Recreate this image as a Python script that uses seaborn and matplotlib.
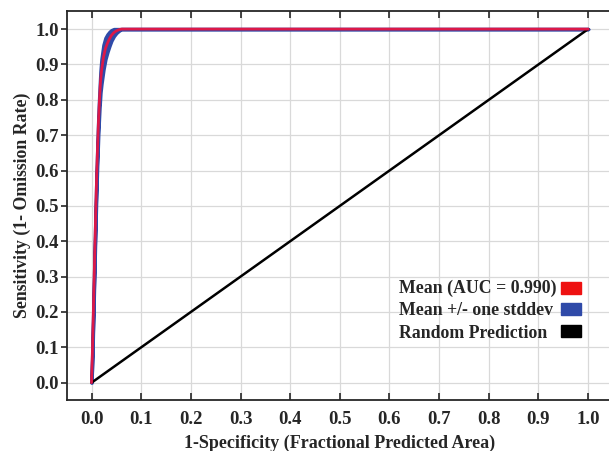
import numpy as np
import pandas as pd
import seaborn as sns
import matplotlib.pyplot as plt
from matplotlib.patches import Patch

# mean ROC curve
fpr = [0.0, 0.002, 0.004, 0.006, 0.008, 0.010, 0.012, 0.014, 0.016, 0.018,
       0.020, 0.024, 0.028, 0.032, 0.036, 0.040, 0.045, 0.050, 0.055, 0.060,
       0.100, 0.500, 1.000]
tpr = [0.0, 0.10, 0.22, 0.34, 0.46, 0.57, 0.66, 0.74, 0.80, 0.85,
       0.88, 0.92, 0.945, 0.96, 0.972, 0.982, 0.99, 0.995, 0.998, 1.0,
       1.0, 1.0, 1.0]
tpr_std = [0.0, 0.01, 0.012, 0.014, 0.016, 0.018, 0.02, 0.022, 0.025, 0.03,
           0.035, 0.035, 0.03, 0.025, 0.02, 0.015, 0.01, 0.006, 0.003, 0.0,
           0.0, 0.0, 0.0]
random_x = [0.0, 1.0]
random_y = [0.0, 1.0]

x_ticks = [0.0, 0.1, 0.2, 0.3, 0.4, 0.5, 0.6, 0.7, 0.8, 0.9, 1.0]
y_ticks = [0.0, 0.1, 0.2, 0.3, 0.4, 0.5, 0.6, 0.7, 0.8, 0.9, 1.0]

legend_labels = ["Mean (AUC = 0.990)", "Mean +/- one stddev", "Random Prediction"]
legend_colors = ["#ee1111", "#2f4aa8", "black"]

RED = "#dc1848"
BLUE = "#2f4aa8"

sns.set_style("ticks")
plt.rcParams["font.family"] = ["Liberation Serif", "DejaVu Serif"]
plt.rcParams["font.weight"] = "bold"

df = pd.DataFrame({"fpr": fpr, "tpr": tpr, "std": tpr_std})
rnd = pd.DataFrame({"x": random_x, "y": random_y})

fig = plt.figure(figsize=(6.09, 4.51), dpi=100)
ax = fig.add_axes([0.1095, 0.113, 0.8954, 0.8625])

# std band
lo = np.clip(df["tpr"] - df["std"], 0, 1)
hi = np.clip(df["tpr"] + df["std"], 0, 1)
ax.fill_between(df["fpr"], lo, hi, color=BLUE, lw=2.5, edgecolor=BLUE, zorder=2)

sns.lineplot(data=rnd, x="x", y="y", color="black", lw=1.8, ax=ax, zorder=3)
sns.lineplot(data=df, x="fpr", y="tpr", color=RED, lw=2.0, ax=ax, zorder=4,
             sort=False)

ax.set_xlim(-0.05, 1.048)
ax.set_ylim(-0.049, 1.051)
ax.set_xticks(x_ticks)
ax.set_yticks(y_ticks)
ax.set_xticklabels([f"{t:.1f}" for t in x_ticks])
ax.set_yticklabels([f"{t:.1f}" for t in y_ticks])
ax.grid(True, color="#d9d9d9", lw=0.9)
ax.set_axisbelow(True)
ax.tick_params(axis="x", direction="in", length=5, width=1.2, top=True,
               labelsize=13.5, pad=8)
ax.tick_params(axis="y", direction="out", length=4, width=1.2, right=True,
               labelsize=13.5, pad=1.5)
for s in ax.spines.values():
    s.set_linewidth(1.3)

ax.set_xlabel("1-Specificity (Fractional Predicted Area)", fontsize=13,
              fontweight="bold", labelpad=5)
ax.set_ylabel("Sensitivity (1- Omission Rate)", fontsize=12.8,
              fontweight="bold", labelpad=3)

# legend: texts left aligned, colour swatches in a column on the right
row_y = [0.288, 0.229, 0.172]
for lbl, yy in zip(legend_labels, row_y):
    ax.text(0.609, yy, lbl, transform=ax.transAxes, ha="left", va="center",
            fontsize=12.8, fontweight="bold", zorder=6)
handles = [Patch(color=c) for c in legend_colors]
ax.legend(handles, ["", "", ""], loc="center", bbox_to_anchor=(0.9257, 0.229),
          frameon=False, fontsize=13, handlelength=1.11, handleheight=0.66,
          handletextpad=0, borderpad=0, borderaxespad=0, labelspacing=0.25)

fig.savefig("out.png", dpi=100)
plt.close(fig)
